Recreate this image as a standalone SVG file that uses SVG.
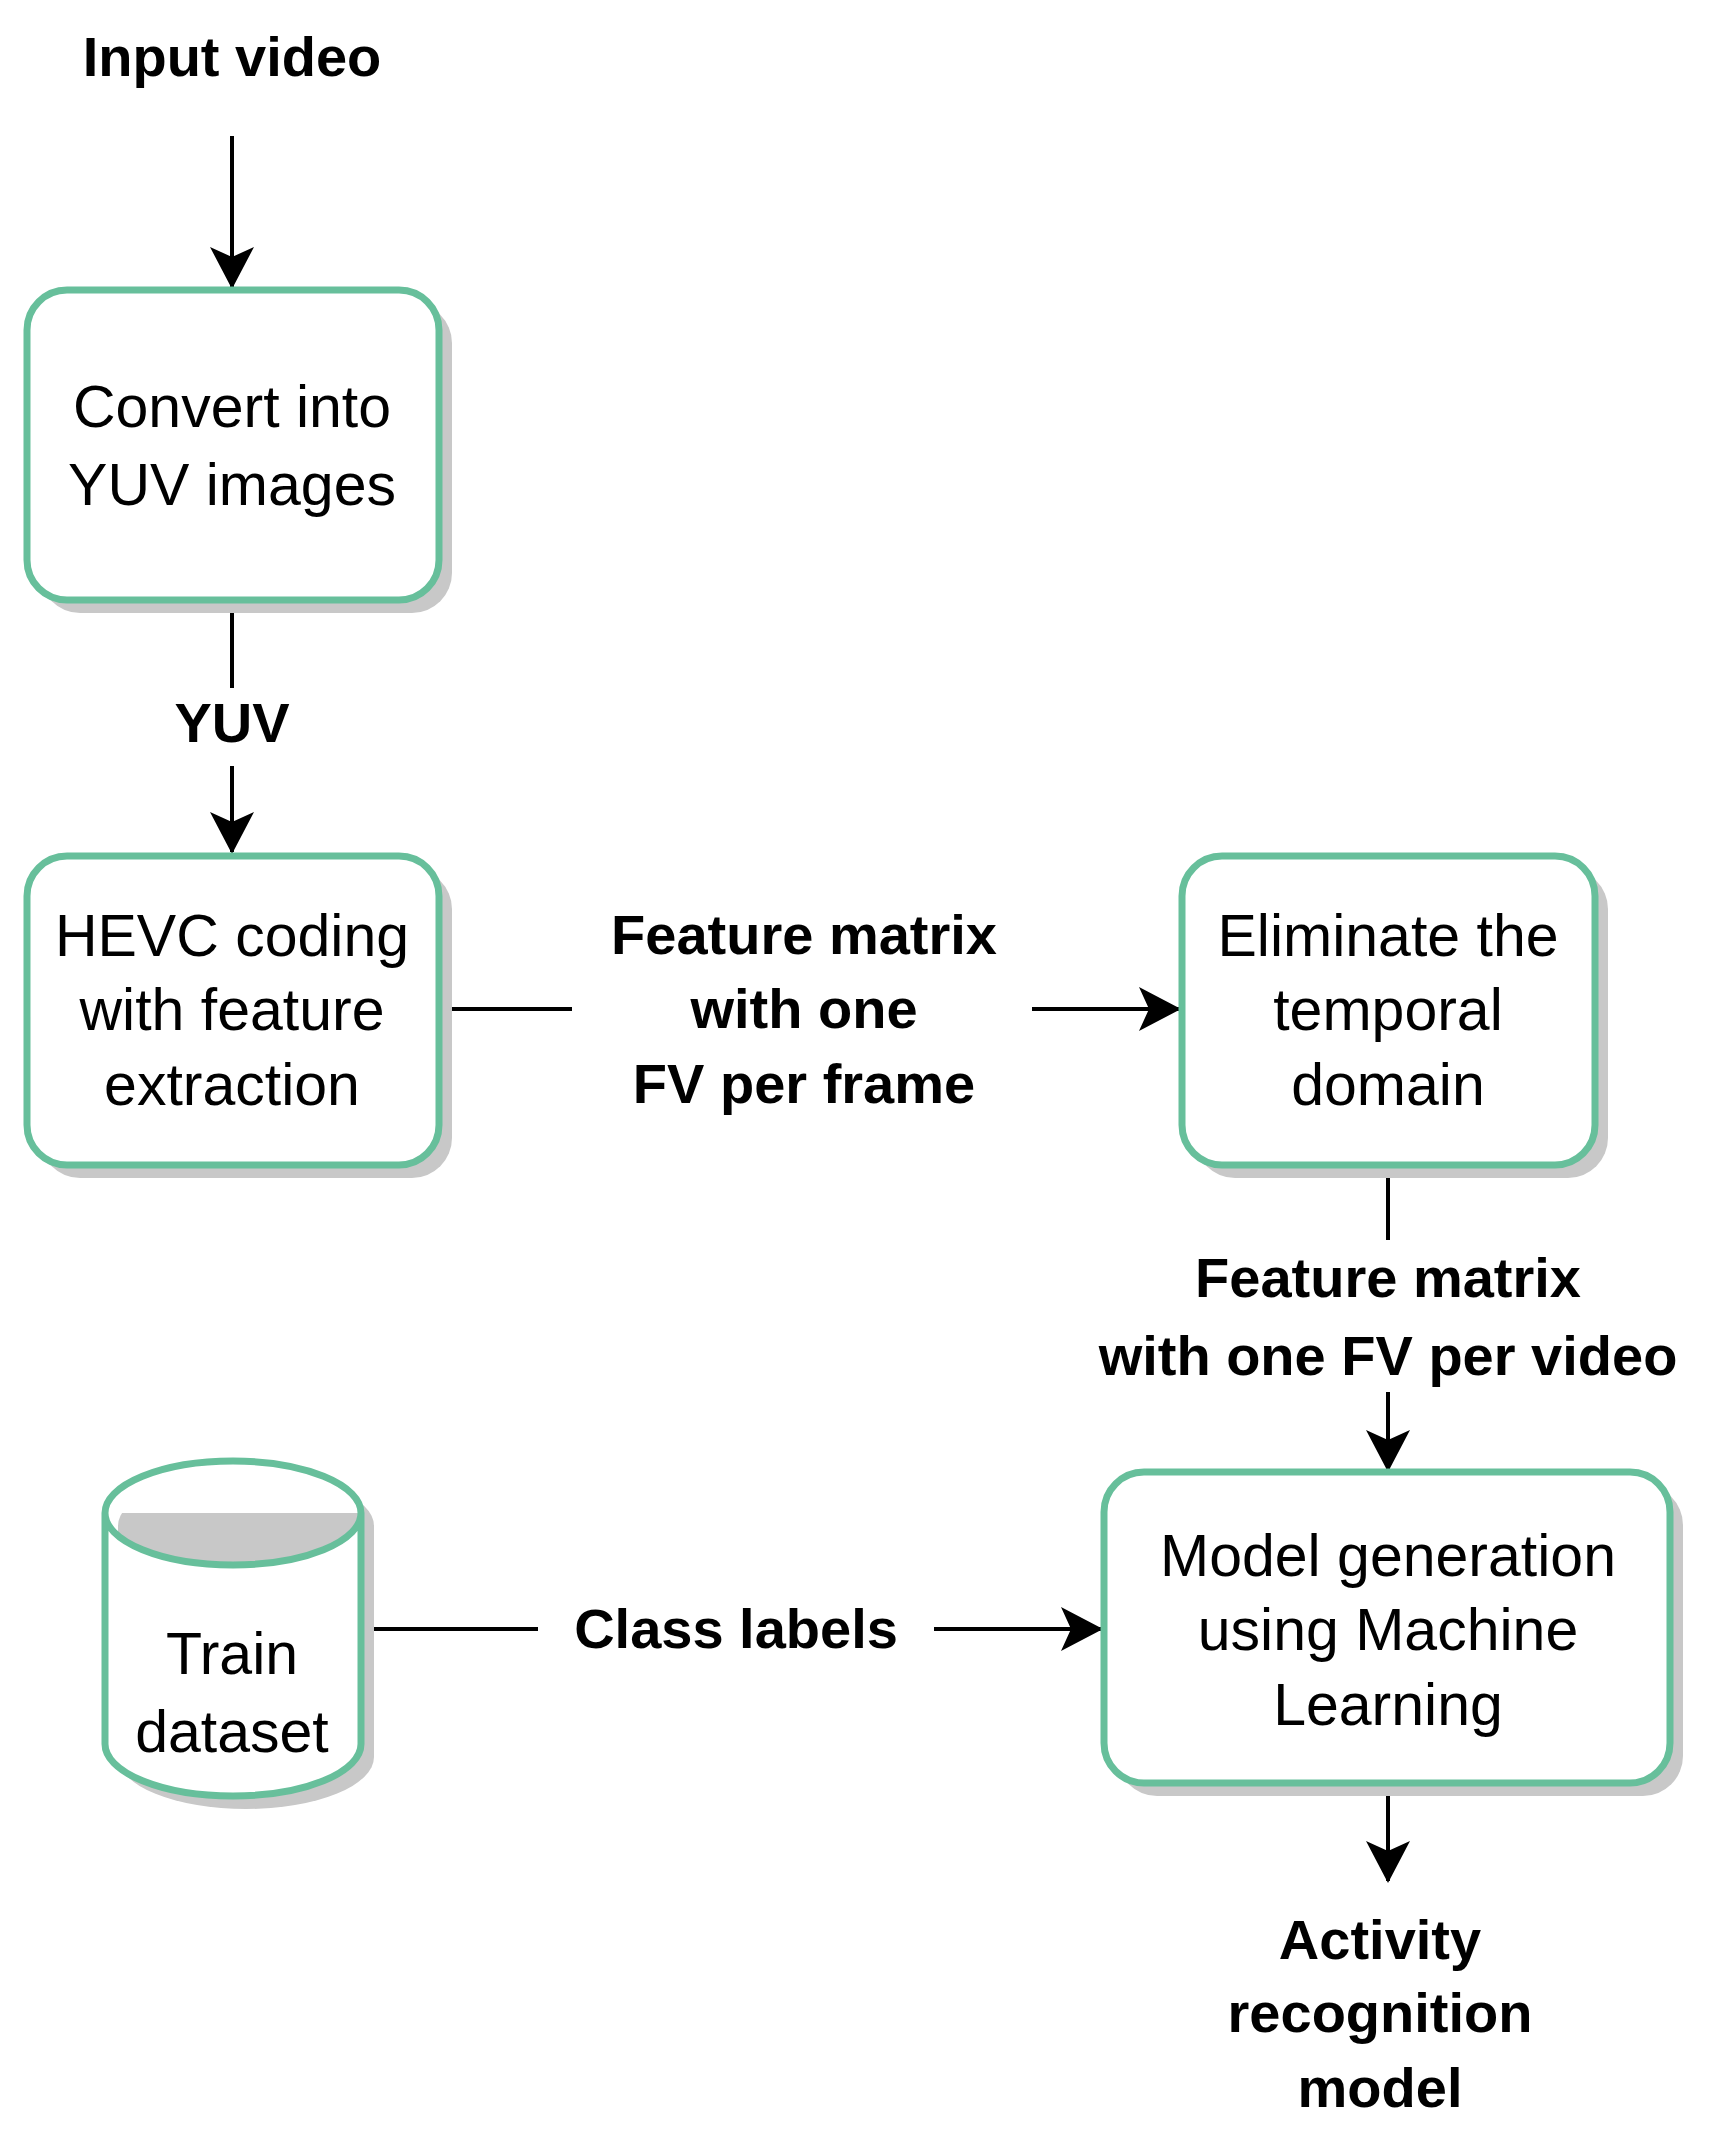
<svg xmlns="http://www.w3.org/2000/svg" width="1731" height="2141" viewBox="0 0 1731 2141">
<style>
.box{fill:#fff;stroke:#67BF9B;stroke-width:7}
.sh{fill:#c8c8c8}
.t{font-family:"Liberation Sans",Arial,sans-serif;font-size:59px;text-anchor:middle;fill:#000}
.b{font-family:"Liberation Sans",Arial,sans-serif;font-size:56px;font-weight:bold;text-anchor:middle;fill:#000}
.ln{stroke:#000;stroke-width:4;fill:none}
</style>
<defs><marker id="a" markerWidth="12" markerHeight="12" refX="10" refY="6" orient="auto" markerUnits="userSpaceOnUse" viewBox="0 0 12 12"><path d="M0,0 L12,6 L0,12 L3,6 Z" fill="#000" transform="scale(1)"/></marker>
<marker id="m" markerWidth="44" markerHeight="48" refX="40" refY="24" orient="auto" markerUnits="userSpaceOnUse"><path d="M0,2 L42,24 L0,46 L10,24 Z" fill="#000"/></marker></defs>
<g id="connectors">
<path class="ln" d="M232,136 V287" marker-end="url(#m)"/>
<path class="ln" d="M232,600 V688"/><path class="ln" d="M232,766 V852" marker-end="url(#m)"/>
<path class="ln" d="M439,1009 H572"/><path class="ln" d="M1032,1009 H1179" marker-end="url(#m)"/>
<path class="ln" d="M1388,1165 V1240"/><path class="ln" d="M1388,1392 V1470" marker-end="url(#m)"/>
<path class="ln" d="M365,1629 H538"/><path class="ln" d="M934,1629 H1101" marker-end="url(#m)"/>
<path class="ln" d="M1388,1786 V1881" marker-end="url(#m)"/>
</g>
<text class="b" x="232" y="76">Input video</text>
<text class="b" x="232" y="742">YUV</text>
<g class="b"><text class="b" x="804" y="954">Feature matrix</text><text class="b" x="804" y="1028">with one</text><text class="b" x="804" y="1103">FV per frame</text></g>
<text class="b" x="1388" y="1297">Feature matrix</text><text class="b" x="1388" y="1375">with one FV per video</text>
<text class="b" x="736" y="1648">Class labels</text>
<text class="b" x="1380" y="1959">Activity</text><text class="b" x="1380" y="2032">recognition</text><text class="b" x="1380" y="2107">model</text>
<g id="n1"><rect class="sh" x="40" y="303" width="412" height="310" rx="40"/><rect class="box" x="27" y="290" width="412" height="310" rx="40"/><text class="t" x="232" y="427">Convert into</text><text class="t" x="232" y="505">YUV images</text></g>
<g id="n2"><rect class="sh" x="40" y="869" width="412" height="309" rx="40"/><rect class="box" x="27" y="856" width="412" height="309" rx="40"/><text class="t" x="232" y="956">HEVC coding</text><text class="t" x="232" y="1030">with feature</text><text class="t" x="232" y="1105">extraction</text></g>
<g id="n3"><rect class="sh" x="1195" y="869" width="413" height="309" rx="40"/><rect class="box" x="1182" y="856" width="413" height="309" rx="40"/><text class="t" x="1388" y="956">Eliminate the</text><text class="t" x="1388" y="1030">temporal</text><text class="t" x="1388" y="1105">domain</text></g>
<g id="n4"><rect class="sh" x="1117" y="1485" width="566" height="311" rx="40"/><rect class="box" x="1104" y="1472" width="566" height="311" rx="40"/><text class="t" x="1388" y="1576">Model generation</text><text class="t" x="1388" y="1650">using Machine</text><text class="t" x="1388" y="1725">Learning</text></g>
<g id="n5"><path class="sh" d="M118,1526 A128,52 0 0 1 374,1526 V1757 A128,52 0 0 1 118,1757 Z"/><path class="box" d="M105,1513 A128,52 0 0 1 361,1513 V1744 A128,52 0 0 1 105,1744 Z M105,1513 A128,52 0 0 0 361,1513"/><text class="t" x="232" y="1674">Train</text><text class="t" x="232" y="1752">dataset</text></g>
</svg>
